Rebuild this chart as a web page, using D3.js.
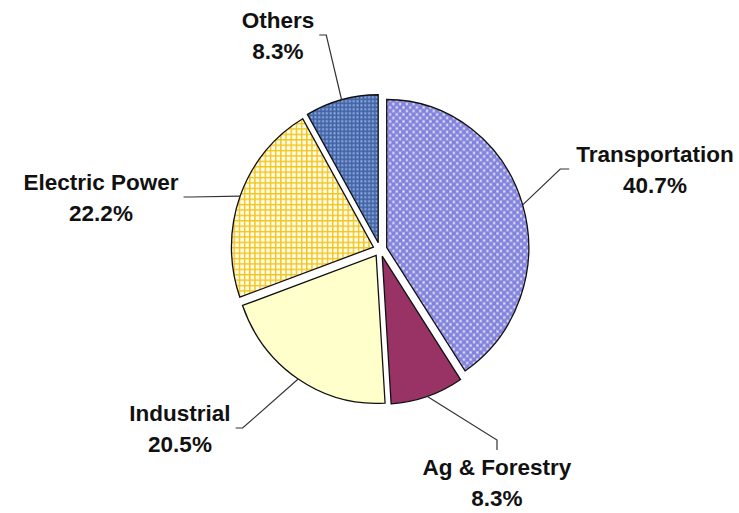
<!DOCTYPE html>
<html>
<head>
<meta charset="utf-8">
<script src="https://cdn.jsdelivr.net/npm/d3@7"></script>
<style>
  body { margin: 0; background: #fff; }
  svg { display: block; }
</style>
</head>
<body>
<div id="chart"></div>
<script>
// data
const categories = ["Transportation", "Ag & Forestry", "Industrial", "Electric Power", "Others"];
const shares = [40.7, 8.3, 20.5, 22.2, 8.3];
const pctLabels = ["40.7%", "8.3%", "20.5%", "22.2%", "8.3%"];

// layout (label block centres + side the leader line attaches to)
const labelSpots = [[655, 169, "left"], [497, 482, "top"], [180, 428, "right"], [101, 197, "right"], [278, 35, "right"]];

const width = 739, height = 513;
const cx = 380, cy = 249.5, ry = 148, rx = 142, explode = 7;

const svg = d3.select("#chart").append("svg")
  .attr("width", width)
  .attr("height", height);

const defs = svg.append("defs");

// lavender circles
const pT = defs.append("pattern").attr("id", "pTrans")
  .attr("patternUnits", "userSpaceOnUse").attr("width", 7).attr("height", 7);
pT.append("rect").attr("width", 7).attr("height", 7).attr("fill", "#f4f4ff");
[[0, 0], [7, 0], [0, 7], [7, 7], [3.5, 3.5]].forEach(p => {
  pT.append("circle").attr("cx", p[0]).attr("cy", p[1]).attr("r", 2.25)
    .attr("fill", "#8282e8").attr("stroke", "#6a6ab8").attr("stroke-width", 0.5);
});

// yellow grid
const pG = defs.append("pattern").attr("id", "pGrid")
  .attr("patternUnits", "userSpaceOnUse").attr("width", 5.4).attr("height", 5.4);
pG.append("rect").attr("width", 5.4).attr("height", 5.4).attr("fill", "#fffbe6");
pG.append("path").attr("d", "M0,0.7H5.4M0.7,0V5.4")
  .attr("stroke", "#f2c419").attr("stroke-width", 1.5);

// blue textured
const pB = defs.append("pattern").attr("id", "pBlue")
  .attr("patternUnits", "userSpaceOnUse").attr("width", 4).attr("height", 4);
pB.append("rect").attr("width", 4).attr("height", 4).attr("fill", "#6586c6");
pB.append("path").attr("d", "M0,0.5H4M0.5,0V4")
  .attr("stroke", "#3f5f9e").attr("stroke-width", 1);
pB.append("rect").attr("x", 2).attr("y", 2).attr("width", 1).attr("height", 1).attr("fill", "#a9bfe6");

const fills = ["url(#pTrans)", "#993366", "#ffffcc", "url(#pGrid)", "url(#pBlue)"];

const pie = d3.pie().sort(null).value(d => d)(shares);
const arc = d3.arc().innerRadius(0).outerRadius(ry);
const sx = rx / ry;
const mid = d => (d.startAngle + d.endAngle) / 2;

svg.append("g").selectAll("g.slice")
  .data(pie)
  .enter()
  .append("g")
  .attr("class", "slice")
  .attr("transform", d => {
    const m = mid(d);
    return `translate(${cx + explode * Math.sin(m)},${cy - explode * Math.cos(m)}) scale(${sx},1)`;
  })
  .append("path")
  .attr("d", arc)
  .attr("fill", (d, i) => fills[i])
  .attr("stroke", "#111")
  .attr("stroke-width", 1.3)
  .attr("vector-effect", "non-scaling-stroke");

// labels
const labels = svg.append("g")
  .attr("font-family", "'Liberation Sans', Arial, sans-serif")
  .attr("font-weight", "bold")
  .attr("font-size", 22.5)
  .attr("fill", "#111")
  .attr("text-anchor", "middle");

const leaders = svg.append("g")
  .attr("fill", "none")
  .attr("stroke", "#333")
  .attr("stroke-width", 1.2);

pie.forEach((d, i) => {
  const [lx, ly, side] = labelSpots[i];
  const t1 = labels.append("text").attr("x", lx).attr("y", ly - 7).text(categories[i]);
  const t2 = labels.append("text").attr("x", lx).attr("y", ly + 24).text(pctLabels[i]);
  const half = Math.max(t1.node().getComputedTextLength(), t2.node().getComputedTextLength()) / 2 + 7;

  const m = mid(d);
  const start = [cx + (explode + rx) * Math.sin(m), cy - (explode + ry) * Math.cos(m)];
  let end, elbow;
  if (side === "left") { end = [lx - half, ly]; elbow = [end[0] - 9, ly]; }
  else if (side === "right") { end = [lx + half - 2, ly]; elbow = [end[0] + 7, ly]; }
  else { end = [lx, ly - 32]; elbow = [lx, ly - 42]; }

  leaders.append("path").attr("d", d3.line()([end, elbow, start]));
});
</script>
</body>
</html>
